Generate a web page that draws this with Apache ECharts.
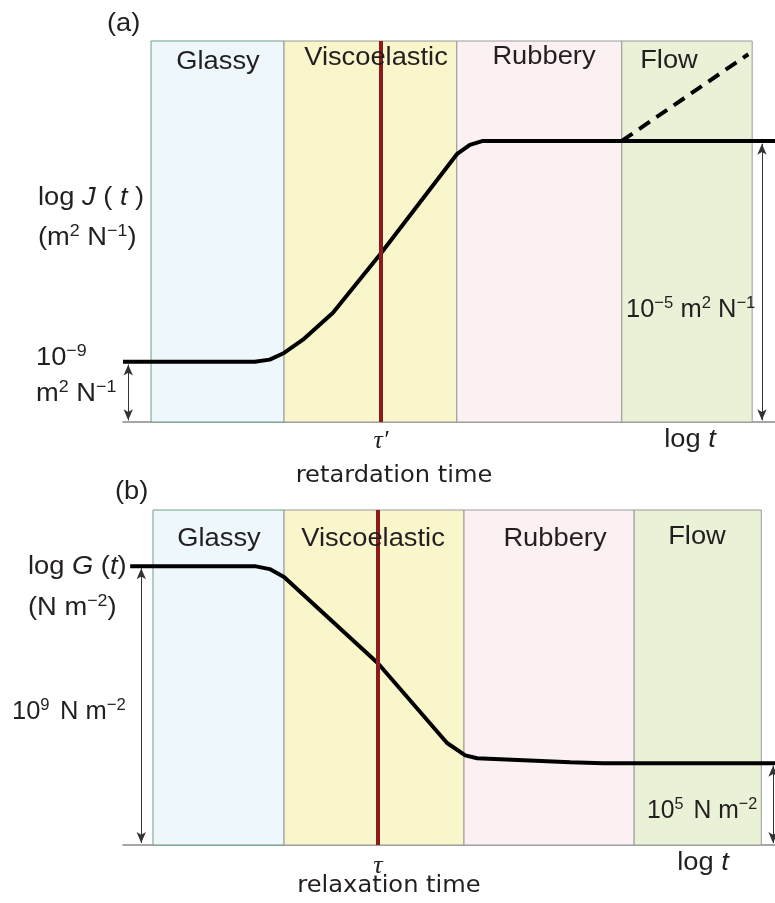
<!DOCTYPE html>
<html>
<head>
<meta charset="utf-8">
<script src="https://cdn.jsdelivr.net/npm/echarts@6/dist/echarts.min.js"></script>
<style>
  html, body { margin: 0; padding: 0; background: #fff; }
  #chart { width: 775px; height: 903px; }
</style>
</head>
<body>
<div id="chart"></div>
<script>
// x is log t in arbitrary units (0..10), y is log10 of the modulus / compliance
const regions = ["Glassy", "Viscoelastic", "Rubbery", "Flow"];
const regionColors = ["#eef7fb", "#faf6cb", "#fbf0f2", "#e9f1d7"];

// (a) creep compliance J(t)
const yRangeA = [-10.09, -3.19];
const bandEdgesA = [0.43, 2.47, 5.12, 7.65, 9.65];
const tauA = 3.96;
const jX = [0, 2.02, 2.25, 2.47, 2.76, 3.22, 3.96, 5.12, 5.32, 5.52, 10];
const jY = [-9, -9, -8.96, -8.84, -8.6, -8.11, -7.03, -5.24, -5.07, -5.0, -5.0];
const flowX = [7.65, 9.59];
const flowY = [-5.0, -3.43];
const arrowsA = [[0.08, -9.05, -10.06], [9.8, -5.05, -10.06]];

// (b) relaxation modulus G(t)
const yRangeB = [3.34, 10.14];
const bandEdgesB = [0.46, 2.47, 5.23, 7.84, 9.79];
const tauB = 3.91;
const gX = [0.11, 2.02, 2.25, 2.47, 3.91, 4.97, 5.25, 5.43, 6.86, 7.36, 10];
const gY = [9, 9, 8.94, 8.78, 7.03, 5.41, 5.16, 5.1, 5.02, 5.0, 5.0];
const arrowsB = [[0.28, 8.96, 3.38], [9.97, 4.95, 3.38]];

const FONT = "'Liberation Sans', Arial, sans-serif";
const TXT = "#231f20";

function bands(edges, yr) {
  return {
    silent: true,
    label: { show: false },
    data: regions.map((name, i) => [
      {
        name: name, xAxis: edges[i], yAxis: yr[0],
        itemStyle: { color: regionColors[i], borderColor: i === 0 ? "#6f9f86" : "#9a9a9a", borderWidth: 1 }
      },
      { xAxis: edges[i + 1], yAxis: yr[1] }
    ])
  };
}

function arrows(list) {
  return {
    silent: true,
    symbol: ["arrow", "arrow"],
    symbolSize: [7, 11],
    label: { show: false },
    lineStyle: { color: "#333", width: 1, type: "solid" },
    data: list.map(a => [{ coord: [a[0], a[1]] }, { coord: [a[0], a[2]] }])
  };
}

function tauLine(x) {
  return {
    silent: true,
    symbol: ["none", "none"],
    label: { show: false },
    lineStyle: { color: "#8e1b1b", width: 4, type: "solid" },
    data: [{ xAxis: x }]
  };
}

const n = { fontSize: 26, fontFamily: FONT, color: TXT, lineHeight: 30 };
const it = { fontSize: 26, fontFamily: FONT, color: TXT, lineHeight: 30, fontStyle: "italic" };
const sup = { fontSize: 17, fontFamily: FONT, color: TXT, verticalAlign: "top", lineHeight: 15 };
const gap = { fontSize: 12, fontFamily: FONT, color: TXT, lineHeight: 30 };
const geo = { fontSize: 23, fontFamily: "'DejaVu Sans', sans-serif", color: TXT, lineHeight: 28 };
const rich = { n: n, s: sup, i: it, g: geo, w: gap };

function txt(x, y, text, align, sx) {
  return {
    type: "text", x: x, y: y, z: 100, scaleX: sx || 1.05,
    style: { text: text, rich: rich, align: align || "left", verticalAlign: "middle", fill: TXT, font: "26px " + FONT }
  };
}

function tauText(x, y, t) {
  return {
    type: "text", x: x, y: y, z: 100,
    style: { text: t, align: "center", verticalAlign: "middle", fill: TXT, font: "italic 26px 'Liberation Serif', serif" }
  };
}

const chart = echarts.init(document.getElementById("chart"));
chart.setOption({
  animation: false,
  backgroundColor: "#fff",
  grid: [
    { left: 123, top: 41, width: 652, height: 381 },
    { left: 123, top: 510, width: 652, height: 335 }
  ],
  xAxis: [0, 1].map(g => ({
    type: "value", gridIndex: g, min: 0, max: 10,
    axisLine: { show: true, onZero: false, lineStyle: { color: "#8a8a8a", width: 1.5 } },
    axisTick: { show: false }, axisLabel: { show: false }, splitLine: { show: false }
  })),
  yAxis: [
    { type: "value", gridIndex: 0, min: yRangeA[0], max: yRangeA[1], show: false, splitLine: { show: false } },
    { type: "value", gridIndex: 1, min: yRangeB[0], max: yRangeB[1], show: false, splitLine: { show: false } }
  ],
  series: [
    {
      type: "line", xAxisIndex: 0, yAxisIndex: 0, showSymbol: false, z: 3,
      data: jX.map((x, i) => [x, jY[i]]),
      lineStyle: { color: "#000", width: 4 },
      markArea: bands(bandEdgesA, yRangeA),
      markLine: tauLine(tauA)
    },
    {
      type: "line", xAxisIndex: 0, yAxisIndex: 0, showSymbol: false, z: 3,
      data: flowX.map((x, i) => [x, flowY[i]]),
      lineStyle: { color: "#000", width: 4, type: [13, 8] },
      markLine: arrows(arrowsA)
    },
    {
      type: "line", xAxisIndex: 1, yAxisIndex: 1, showSymbol: false, z: 3,
      data: gX.map((x, i) => [x, gY[i]]),
      lineStyle: { color: "#000", width: 4 },
      markArea: bands(bandEdgesB, yRangeB),
      markLine: tauLine(tauB)
    },
    {
      type: "line", xAxisIndex: 1, yAxisIndex: 1, showSymbol: false, data: [],
      markLine: arrows(arrowsB)
    }
  ],
  graphic: [
    txt(107, 24, "{n|(a)}"),
    txt(218, 62, "{n|" + regions[0] + "}", "center"),
    txt(376, 58, "{n|" + regions[1] + "}", "center"),
    txt(544, 57, "{n|" + regions[2] + "}", "center"),
    txt(669, 61, "{n|" + regions[3] + "}", "center"),
    txt(38, 198, "{n|log }{i|J}{n| ( }{i|t}{n| )}"),
    txt(38, 238, "{n|(m}{s|2}{n| N}{s|−1}{n|)}"),
    txt(36, 358, "{n|10}{s|−9}"),
    txt(36, 394, "{n|m}{s|2}{n| N}{s|−1}"),
    txt(626, 310, "{n|10}{s|−5}{n| m}{s|2}{n| N}{s|−1}", "left", 0.98),
    tauText(381, 441, "τ′"),
    txt(394, 476, "{g|retardation time}", "center"),
    txt(690, 440, "{n|log }{i|t}", "center"),

    txt(115, 492, "{n|(b)}"),
    txt(219, 539, "{n|" + regions[0] + "}", "center"),
    txt(373, 539, "{n|" + regions[1] + "}", "center"),
    txt(555, 539, "{n|" + regions[2] + "}", "center"),
    txt(697, 537, "{n|" + regions[3] + "}", "center"),
    txt(28, 567, "{n|log }{i|G}{n| (}{i|t}{n|)}"),
    txt(28, 608, "{n|(N m}{s|−2}{n|)}"),
    txt(12, 712, "{n|10}{s|9}{w| }{n| N m}{s|−2}", "left", 0.98),
    txt(647, 811, "{n|10}{s|5}{w| }{n| N m}{s|−2}", "left", 0.95),
    tauText(378, 866, "τ"),
    txt(389, 886, "{g|relaxation time}", "center"),
    txt(703, 863, "{n|log }{i|t}", "center")
  ]
});
</script>
</body>
</html>
